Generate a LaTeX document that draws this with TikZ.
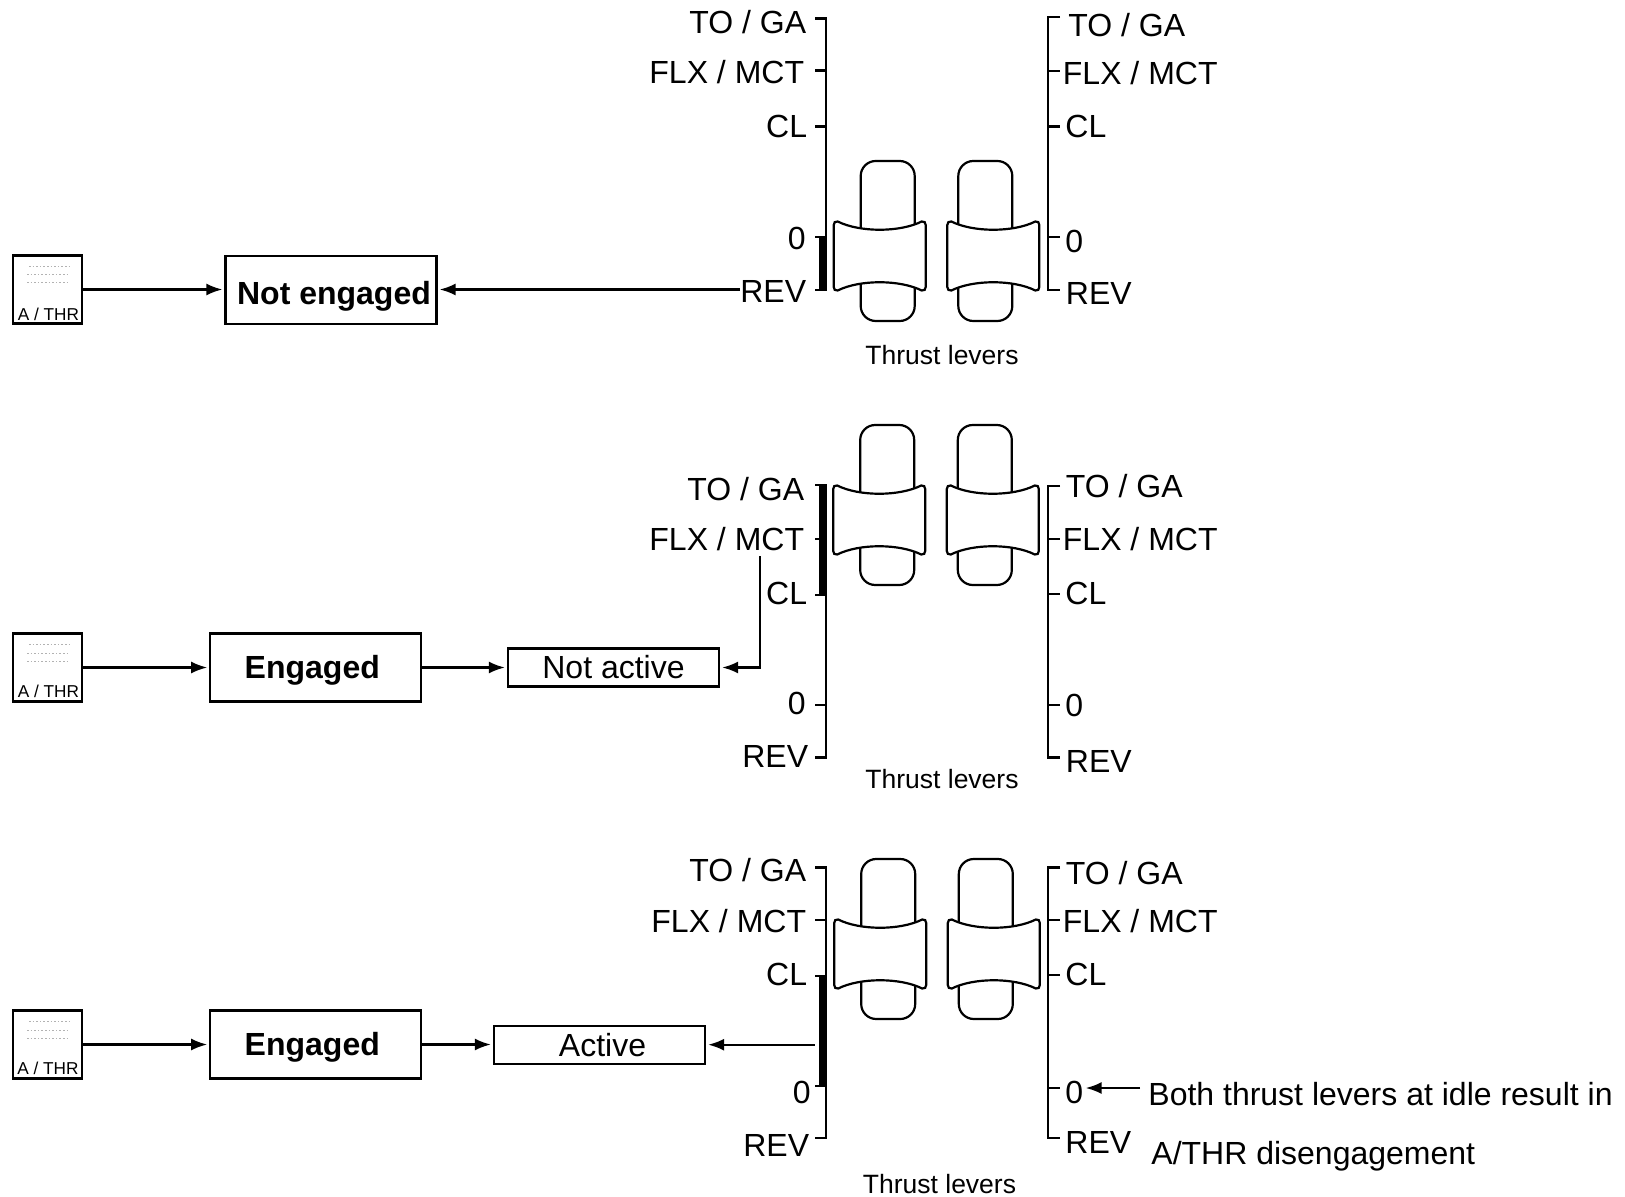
\documentclass[tikz,border=0pt]{standalone}
\usepackage{fontspec}
\setmainfont{Liberation Sans}
\usetikzlibrary{arrows.meta}
\newcommand{\leverback}{\draw[ln,rounded corners=7.5pt] (-27,-80) rectangle (27,80);}
\newcommand{\leverfront}[1]{%
  \begin{scope}[shift={(#1,15)}]
    \draw[ln,fill=white] (-42,-34.5) .. controls (-20,-23.5) and (20,-23.5) .. (42,-34.5)
      .. controls (44.5,-35.5) and (46,-33) .. (46,-31) -- (46,31)
      .. controls (46,33) and (44.5,35.5) .. (42,34.5)
      .. controls (20,23.5) and (-20,23.5) .. (-42,34.5)
      .. controls (-44.5,35.5) and (-46,33) .. (-46,31) -- (-46,-31)
      .. controls (-46,-33) and (-44.5,-35.5) .. (-42,-34.5) -- cycle;
  \end{scope}}
\newcommand{\boxtxt}[2]{\raisebox{-#1}[0pt][0pt]{#2}}
\tikzset{
  x=0.5pt,y=-0.5pt,
  ln/.style={line width=1.1pt,black},
  arr/.style={ln,-{Latex[length=8pt,width=6pt]},shorten >=1pt},
  lab/.style={inner sep=0pt,font=\fontsize{16}{18}\selectfont},
  le/.style={lab,anchor=base east},
  ri/.style={lab,anchor=base west},
  caplab/.style={inner sep=0pt,anchor=base,font=\fontsize{13.25}{15}\selectfont},
  bigbox/.style={ln,draw,inner sep=0pt,minimum width=105.5pt,minimum height=34pt,font=\fontsize{16}{18}\selectfont\bfseries,anchor=center},
  smallbox/.style={ln,draw,inner sep=0pt,minimum width=105.5pt,minimum height=19pt,font=\fontsize{16}{18}\selectfont,anchor=center},
  athr/.style={ln,draw,inner sep=0pt,minimum width=34.5pt,minimum height=34pt,anchor=center},
  athrtxt/.style={inner sep=0pt,anchor=base,font=\fontsize{8.6}{10}\selectfont},
  dots/.style={line width=0.5pt,gray!60,dash pattern=on 0.8pt off 1pt},
  leverl/.pic={\leverback\leverfront{-8}},
  leverr/.pic={\leverback\leverfront{8}}
}
\begin{document}
\begin{tikzpicture}
\useasboundingbox (0,0) rectangle (1625,1197);

% ---------- panel 1 ----------
\draw[ln] (815,18.5) -- (826,18.5) -- (826,290) -- (815,290);
\draw[ln] (815,70.5) -- (826,70.5);
\draw[ln] (815,126.5) -- (826,126.5);
\draw[ln] (815,237) -- (826,237);
\fill (819.3,237) rectangle (826.6,290);
\draw[ln] (1060,17) -- (1048,17) -- (1048,290) -- (1060,290);
\draw[ln] (1048,71) -- (1060,71);
\draw[ln] (1048,126.5) -- (1060,126.5);
\draw[ln] (1048,237) -- (1060,237);
\pic at (887.7,241) {leverl};
\pic at (985.3,241) {leverr};
\node[le] (l1a) at (806.5,34) {TO / GA};
\node[le] (l1b) at (804.5,84) {FLX / MCT};
\node[le] (l1c) at (807.5,137.5) {CL};
\node[le] (l1d) at (806,250) {0};
\node[le] (l1e) at (806.5,303) {REV};
\node[ri] (r1a) at (1068,36.5) {TO / GA};
\node[ri] (r1b) at (1062.5,84.5) {FLX / MCT};
\node[ri] (r1c) at (1065,137.5) {CL};
\node[ri] (r1d) at (1065,252.5) {0};
\node[ri] (r1e) at (1065.5,305) {REV};
\node[caplab] (c1) at (942,365) {Thrust levers};
\node[athr] (a1) at (47.5,289.5) {};
\node[athrtxt] (at1) at (48.5,320.5) {A / THR};
\draw[dots] (29,266.5) -- (70,266.5);
\draw[dots] (27,275) -- (68,275);
\draw[dots] (27,283) -- (68,283);
\node[bigbox] (b1) at (331,290) {\boxtxt{7.5pt}{\hspace*{3pt}Not engaged}};
\draw[arr] (a1) -- (b1.west |- a1);
\draw[arr] (l1e.west |- a1) -- (b1.east |- a1);

% ---------- panel 2 ----------
\draw[ln] (815,485) -- (826,485) -- (826,757.5) -- (815,757.5);
\draw[ln] (815,539) -- (826,539);
\draw[ln] (815,595) -- (826,595);
\draw[ln] (815,705) -- (826,705);
\fill (819.3,485) rectangle (826.6,595);
\draw[ln] (1060,486) -- (1048,486) -- (1048,757.5) -- (1060,757.5);
\draw[ln] (1048,539) -- (1060,539);
\draw[ln] (1048,594) -- (1060,594);
\draw[ln] (1048,705) -- (1060,705);
\pic at (887.2,505) {leverl};
\pic at (984.8,505) {leverr};
\node[le] (l2a) at (804.5,500) {TO / GA};
\node[le] (l2b) at (804.5,550) {FLX / MCT};
\node[le] (l2c) at (807.5,604) {CL};
\node[le] (l2d) at (806,714.5) {0};
\node[le] (l2e) at (808.5,767.5) {REV};
\node[ri] (r2a) at (1065.5,497) {TO / GA};
\node[ri] (r2b) at (1062.5,550) {FLX / MCT};
\node[ri] (r2c) at (1065,604) {CL};
\node[ri] (r2d) at (1065,716.5) {0};
\node[ri] (r2e) at (1065.5,772) {REV};
\node[caplab] (c2) at (942,788) {Thrust levers};
\node[athr] (a2) at (47.5,667.5) {};
\node[athrtxt] (at2) at (48.5,697) {A / THR};
\draw[dots] (29,644.5) -- (70,644.5);
\draw[dots] (27,653) -- (68,653);
\draw[dots] (27,661) -- (68,661);
\node[bigbox] (b2) at (315.8,667.5) {\boxtxt{5.5pt}{Engaged\hspace*{3.5pt}}};
\node[smallbox] (s2) at (613.5,667.5) {\boxtxt{5.5pt}{Not active}};
\coordinate (f2) at (760,556);
\draw[arr] (a2) -- (b2);
\draw[arr] (b2) -- (s2);
\draw[arr] (f2) |- (s2.east);

% ---------- panel 3 ----------
\draw[ln] (815,867.5) -- (826,867.5) -- (826,1138) -- (815,1138);
\draw[ln] (815,920) -- (826,920);
\draw[ln] (815,976) -- (826,976);
\draw[ln] (815,1086) -- (826,1086);
\fill (819.3,976) rectangle (826.6,1086);
\draw[ln] (1060,867.5) -- (1048,867.5) -- (1048,1138) -- (1060,1138);
\draw[ln] (1048,920) -- (1060,920);
\draw[ln] (1048,975) -- (1060,975);
\draw[ln] (1048,1088) -- (1060,1088);
\pic at (888.2,939) {leverl};
\pic at (985.8,939) {leverr};
\node[le] (l3a) at (806.5,881.5) {TO / GA};
\node[le] (l3b) at (806.5,932) {FLX / MCT};
\node[le] (l3c) at (807.5,985) {CL};
\node[le] (l3d) at (811,1103) {0};
\node[le] (l3e) at (809.5,1156) {REV};
\node[ri] (r3a) at (1065.5,884.5) {TO / GA};
\node[ri] (r3b) at (1062.5,932) {FLX / MCT};
\node[ri] (r3c) at (1065,985) {CL};
\node[ri] (r3d) at (1065,1103) {0};
\node[ri] (r3e) at (1065,1153) {REV};
\node[caplab] (c3) at (939.5,1193) {Thrust levers};
\node[athr] (a3) at (47.5,1044.5) {};
\node[athrtxt] (at3) at (48,1074.5) {A / THR};
\draw[dots] (29,1021.5) -- (70,1021.5);
\draw[dots] (27,1030) -- (68,1030);
\draw[dots] (27,1038) -- (68,1038);
\node[bigbox] (b3) at (315.8,1044.5) {\boxtxt{5.5pt}{Engaged\hspace*{3.5pt}}};
\node[smallbox] (s3) at (599.5,1045) {\boxtxt{5.5pt}{\hspace*{3pt}Active}};
\coordinate (f3) at (814.6,1044.7);
\draw[arr] (a3) -- (b3);
\draw[arr] (b3) -- (s3.west |- b3);
\draw[arr] (f3) -- (s3.east |- f3);
\node[ri] (t1) at (1148,1105) {Both thrust levers at idle result in};
\node[ri] (t2) at (1151,1164.5) {A/THR disengagement};
\coordinate (n0) at (1140,1088);
\draw[arr] (n0) -- (r3d.east |- n0);
\end{tikzpicture}
\end{document}
